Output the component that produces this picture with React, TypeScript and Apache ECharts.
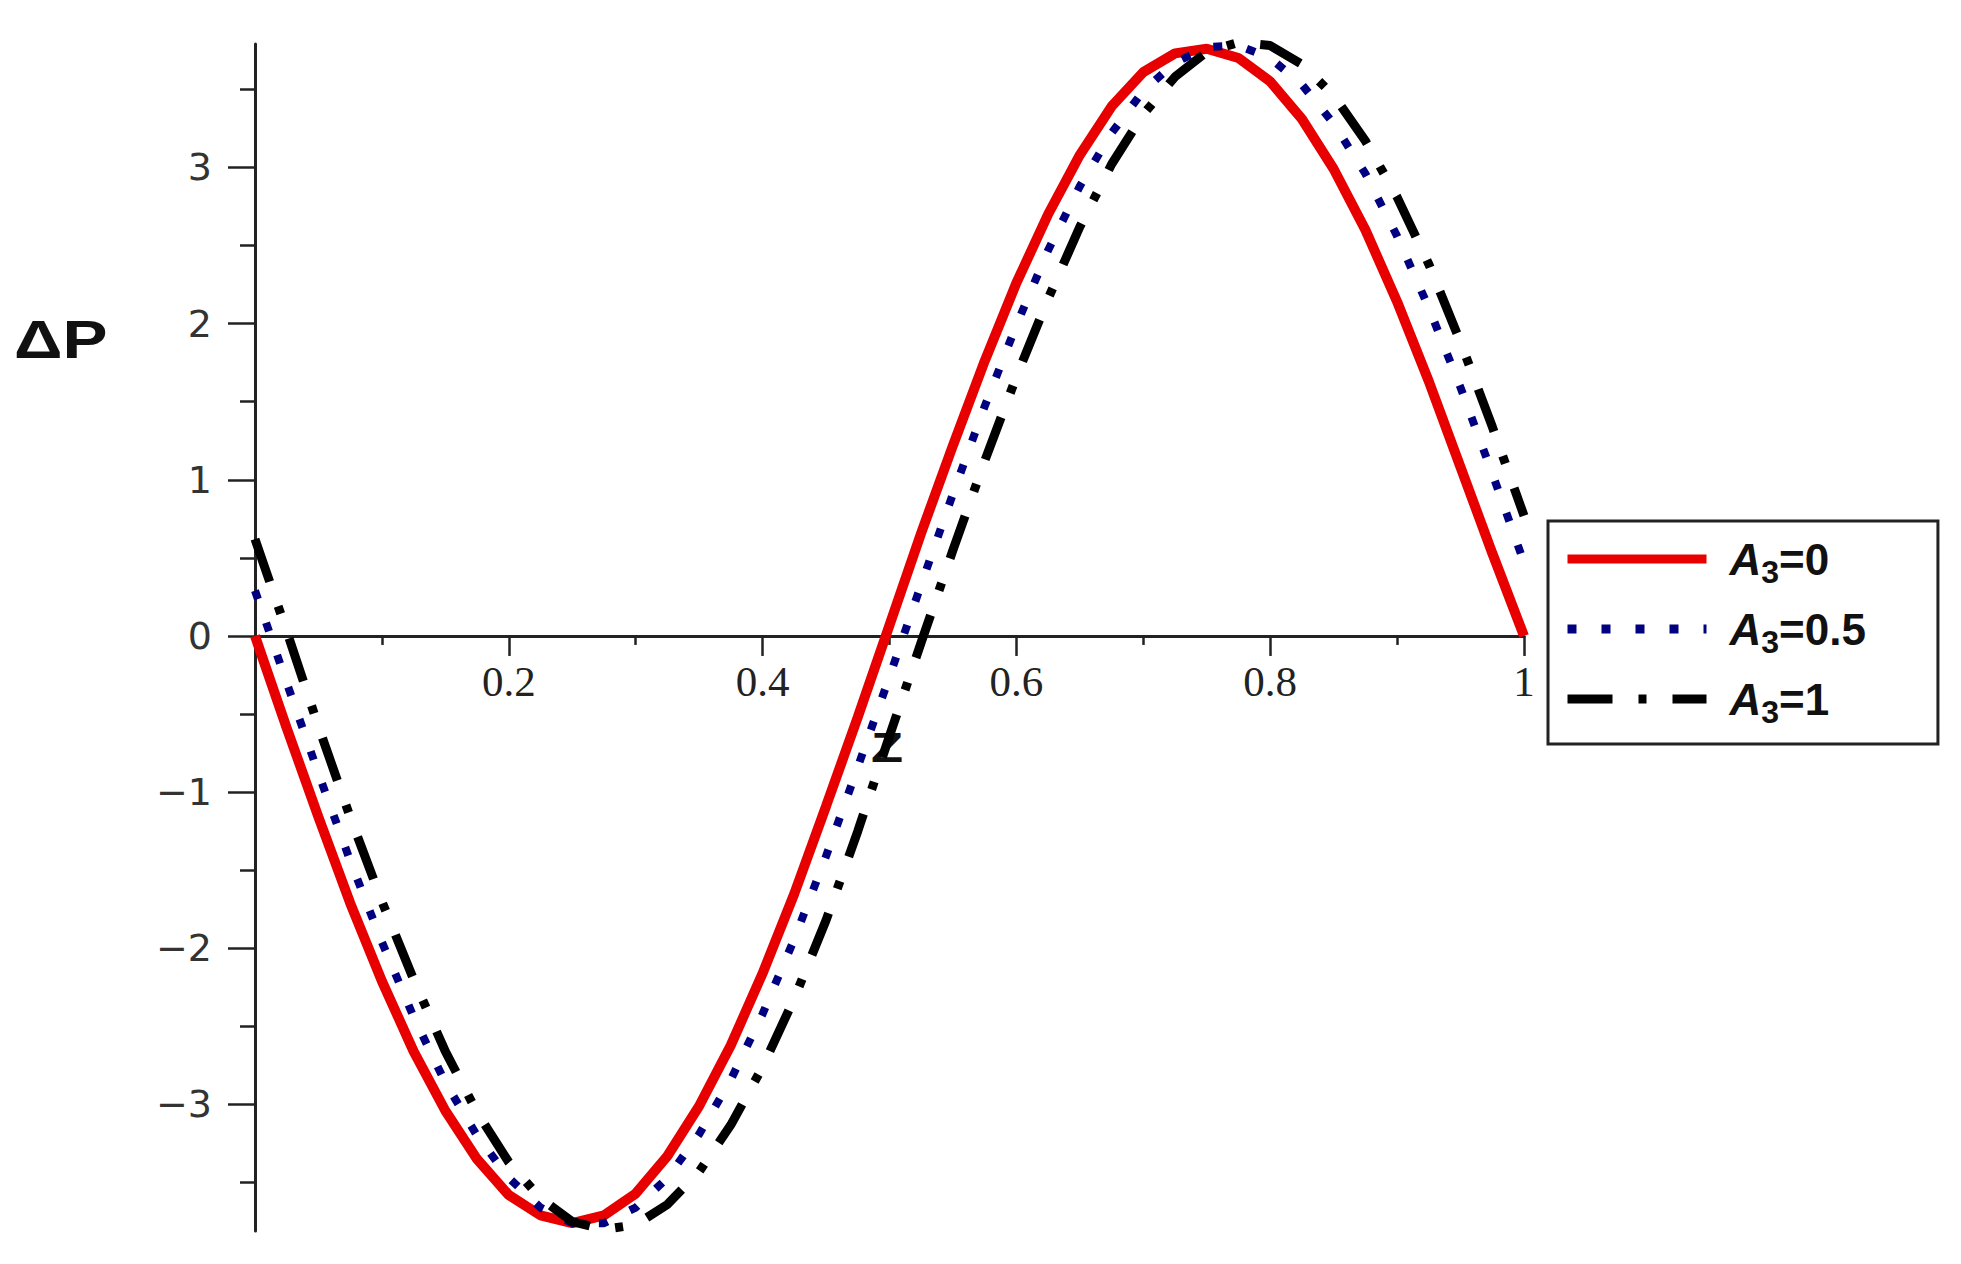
import React, { useEffect, useRef } from 'react';
import * as echarts from 'echarts';

// axial coordinate z
const zValues = [
  0, 0.025, 0.05, 0.075, 0.1, 0.125, 0.15, 0.175, 0.2, 0.225,
  0.25, 0.275, 0.3, 0.325, 0.35, 0.375, 0.4, 0.425, 0.45, 0.475,
  0.5, 0.525, 0.55, 0.575, 0.6, 0.625, 0.65, 0.675, 0.7, 0.725,
  0.75, 0.775, 0.8, 0.825, 0.85, 0.875, 0.9, 0.925, 0.95, 0.975, 1,
];

// ΔP for A3 = 0
const dpA3_0 = [
  0, -0.59, -1.16, -1.71, -2.21, -2.66, -3.04, -3.35, -3.58, -3.71,
  -3.76, -3.71, -3.57, -3.33, -3.01, -2.62, -2.16, -1.65, -1.09, -0.52,
  0.07, 0.66, 1.22, 1.76, 2.26, 2.7, 3.08, 3.39, 3.61, 3.73,
  3.76, 3.7, 3.55, 3.31, 2.99, 2.6, 2.14, 1.63, 1.08, 0.53, 0,
];

// ΔP for A3 = 0.5
const dpA3_05 = [
  0.29, -0.3, -0.88, -1.44, -1.96, -2.44, -2.86, -3.2, -3.47, -3.66,
  -3.76, -3.76, -3.66, -3.47, -3.19, -2.84, -2.42, -1.94, -1.41, -0.84,
  -0.26, 0.33, 0.91, 1.47, 1.99, 2.47, 2.88, 3.22, 3.49, 3.67,
  3.77, 3.78, 3.7, 3.53, 3.28, 2.96, 2.56, 2.1, 1.59, 1.04, 0.47,
];

// ΔP for A3 = 1
const dpA3_1 = [
  0.62, 0.03, -0.58, -1.16, -1.7, -2.2, -2.66, -3.05, -3.37, -3.6,
  -3.75, -3.8, -3.77, -3.64, -3.43, -3.13, -2.76, -2.32, -1.82, -1.25,
  -0.64, -0.04, 0.55, 1.12, 1.66, 2.16, 2.62, 3.02, 3.34, 3.58,
  3.74, 3.8, 3.78, 3.66, 3.46, 3.17, 2.81, 2.38, 1.88, 1.34, 0.77,
];

const seriesNames = ['A3=0', 'A3=0.5', 'A3=1'];
const xTickLabels = [0.2, 0.4, 0.6, 0.8, 1];
const yTickLabels = [-3, -2, -1, 0, 1, 2, 3];
const yMinorTicks = [-3.5, -2.5, -1.5, -0.5, 0.5, 1.5, 2.5, 3.5];

const Y_MIN = -3.81;
const Y_MAX = 3.79;
const GRID_TOP = 44;
const GRID_HEIGHT = 1187;
const AXIS_COLOR = '#222';

export default function App() {
  const ref = useRef<HTMLDivElement>(null);

  useEffect(() => {
    if (!ref.current) return;
    const chart = echarts.init(ref.current, undefined, { renderer: 'svg' });

    const toPairs = (vals: number[]) => zValues.map((z, i) => [z, vals[i]]);

    // distance (px) from the grid bottom up to the ΔP = 0 line
    const zeroOffset = -(GRID_HEIGHT * (0 - Y_MIN)) / (Y_MAX - Y_MIN);

    const richBase = { fontFamily: 'Liberation Sans', fontWeight: 'bold' as const, color: '#111' };

    chart.setOption({
      animation: false,
      backgroundColor: '#ffffff',
      grid: { left: 255, top: GRID_TOP, width: 1269, height: GRID_HEIGHT, containLabel: false },
      xAxis: [
        {
          type: 'value',
          min: 0,
          max: 1,
          interval: 0.2,
          position: 'bottom',
          offset: zeroOffset,
          axisLine: { show: true, onZero: false, lineStyle: { color: AXIS_COLOR, width: 3 } },
          axisTick: { show: true, inside: false, length: 20, lineStyle: { color: AXIS_COLOR, width: 2.5 } },
          minorTick: { show: true, splitNumber: 2, length: 9, lineStyle: { color: AXIS_COLOR, width: 2.5 } },
          axisLabel: {
            customValues: xTickLabels,
            formatter: (v: number) => String(v),
            margin: 24,
            fontFamily: 'Liberation Serif',
            fontSize: 43,
            color: '#222',
          },
          splitLine: { show: false },
          minorSplitLine: { show: false },
        },
      ],
      yAxis: [
        {
          type: 'value',
          min: Y_MIN,
          max: Y_MAX,
          position: 'left',
          axisLine: { show: true, onZero: false, lineStyle: { color: AXIS_COLOR, width: 3 } },
          axisTick: { show: true, inside: false, customValues: yTickLabels, length: 27, lineStyle: { color: AXIS_COLOR, width: 2.5 } },
          axisLabel: {
            customValues: yTickLabels,
            formatter: (v: number) => (v < 0 ? '\u2212' + Math.abs(v) : String(v)),
            margin: 43,
            fontFamily: 'DejaVu Sans',
            fontSize: 38,
            color: '#333',
          },
          splitLine: { show: false },
        },
        {
          type: 'value',
          min: Y_MIN,
          max: Y_MAX,
          position: 'left',
          axisLine: { show: false, onZero: false },
          axisTick: { show: true, inside: false, customValues: yMinorTicks, length: 15, lineStyle: { color: AXIS_COLOR, width: 2.5 } },
          axisLabel: { show: false },
          splitLine: { show: false },
        },
      ],
      legend: {
        orient: 'vertical',
        left: 1548,
        top: 521,
        data: seriesNames,
        itemWidth: 139,
        itemHeight: 2,
        itemGap: 19,
        padding: [16, 72, 16, 15],
        borderColor: '#222',
        borderWidth: 3,
        backgroundColor: '#fff',
        selectedMode: false,
        itemStyle: { opacity: 0 },
        lineStyle: { width: 9 },
        formatter: (name: string) => '{i|A}{s|3}{t|' + name.slice(2) + '}',
        textStyle: {
          rich: {
            i: { ...richBase, fontSize: 44, fontStyle: 'italic', padding: [0, 0, 0, 18], lineHeight: 58 },
            s: { ...richBase, fontSize: 32, verticalAlign: 'bottom', lineHeight: 58 },
            t: { ...richBase, fontSize: 44, lineHeight: 58 },
          },
        },
      },
      graphic: [
        {
          type: 'text',
          x: 14,
          y: 339,
          scaleX: 1.25,
          style: {
            text: '\u0394P',
            font: 'bold 54px "Liberation Sans"',
            fill: '#111',
            textAlign: 'left',
            textVerticalAlign: 'middle',
          },
        },
        {
          type: 'text',
          x: 887,
          y: 747,
          scaleX: 1.25,
          style: {
            text: 'Z',
            font: 'bold 42px "Liberation Sans"',
            fill: '#111',
            textAlign: 'center',
            textVerticalAlign: 'middle',
          },
        },
      ],
      series: [
        {
          name: seriesNames[0],
          type: 'line',
          xAxisIndex: 0,
          yAxisIndex: 0,
          data: toPairs(dpA3_0),
          symbol: 'none',
          clip: false,
          lineStyle: { color: '#e80000', width: 10, type: 'solid' },
          itemStyle: { color: '#e80000' },
        },
        {
          name: seriesNames[1],
          type: 'line',
          xAxisIndex: 0,
          yAxisIndex: 0,
          data: toPairs(dpA3_05),
          symbol: 'none',
          clip: false,
          lineStyle: { color: '#000080', width: 8, type: [9, 25] },
          itemStyle: { color: '#000080' },
        },
        {
          name: seriesNames[2],
          type: 'line',
          xAxisIndex: 0,
          yAxisIndex: 0,
          data: toPairs(dpA3_1),
          symbol: 'none',
          clip: false,
          lineStyle: { color: '#000000', width: 9, type: [45, 26, 8, 26] },
          itemStyle: { color: '#000000' },
        },
      ],
    });

    return () => chart.dispose();
  }, []);

  return (
    <div
      ref={ref}
      style={{ position: 'fixed', left: 0, top: 0, width: 1961, height: 1264, background: '#fff' }}
    />
  );
}
